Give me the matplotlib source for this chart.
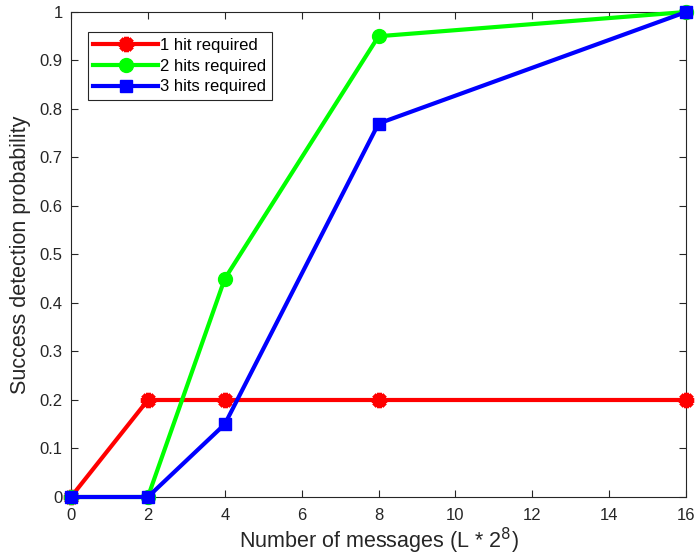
import matplotlib.pyplot as plt
import numpy as np

plt.rcParams['font.family'] = ['Liberation Sans', 'DejaVu Sans']

messages = [0, 2, 4, 8, 16]
one_hit = [0, 0.2, 0.2, 0.2, 0.2]
two_hits = [0, 0, 0.45, 0.95, 1.0]
three_hits = [0, 0, 0.15, 0.77, 1.0]

fig = plt.figure(figsize=(6.98, 5.6), dpi=100)
ax = fig.add_axes([0.1017, 0.1125, 0.8813, 0.8661])

ax.plot(messages, one_hit, color='#ff0000', lw=3, marker=(8, 2, 0),
        ms=11, mew=3.5, label='1 hit required', clip_on=False, zorder=3)
ax.plot(messages, two_hits, color='#00ff00', lw=3, marker='o',
        ms=10, label='2 hits required', clip_on=False, zorder=4)
ax.plot(messages, three_hits, color='#0000ff', lw=3, marker='s',
        ms=9, label='3 hits required', clip_on=False, zorder=5)

ax.set_xlim(0, 16)
ax.set_ylim(0, 1)
ax.set_xticks(np.arange(0, 17, 2))
ax.set_yticks(np.arange(0, 1.01, 0.1))
ax.set_yticklabels(['0'] + [f'{v:.1f}' for v in np.arange(0.1, 0.95, 0.1)] + ['1'])
ax.tick_params(direction='in', top=True, right=True, labelsize=12,
               colors='#262626', length=5, width=0.8)
ax.tick_params(axis='x', pad=8)
ax.tick_params(axis='y', pad=6)
for s in ax.spines.values():
    s.set_color('#262626')
    s.set_linewidth(0.8)

ax.set_xlabel('Number of messages (L * 2$^8$)', fontsize=15.5, color='#262626', labelpad=2)
ax.set_ylabel('Success detection probability', fontsize=15.5, color='#262626', labelpad=6)

leg = ax.legend(loc='upper left', bbox_to_anchor=(0.027, 0.959), borderaxespad=0,
                fontsize=12, fancybox=False, edgecolor='#262626', framealpha=1,
                handlelength=3.9, borderpad=0.35, labelspacing=0.35, handletextpad=0.1)
leg.get_frame().set_linewidth(0.8)

fig.savefig('out.png', dpi=100)
